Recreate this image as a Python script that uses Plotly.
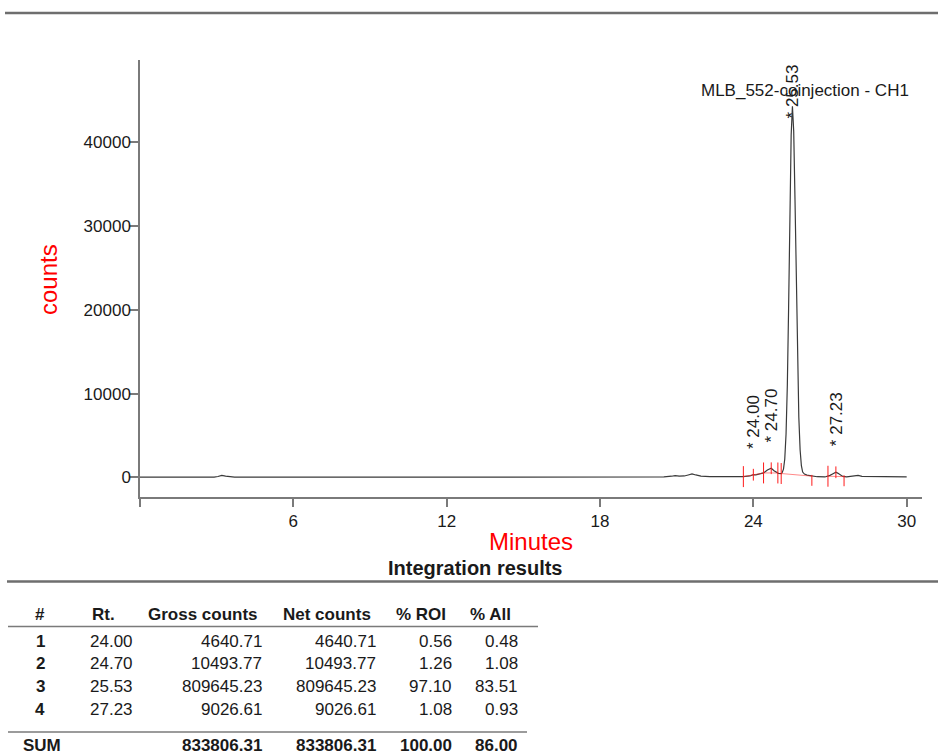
import numpy as np
import plotly.graph_objects as go

# ---------------- chromatogram (CH1) ----------------
time_min = [0.0, 1.0, 2.0, 2.9, 3.05, 3.2, 3.35, 3.5, 3.7, 6.0, 9.0, 12.0, 15.0, 18.0,
            19.5, 20.5, 20.8, 20.94, 21.1, 21.3, 21.45, 21.6, 21.75, 21.95, 22.3, 23.0,
            23.6, 23.87, 24.0, 24.1, 24.2, 24.4, 24.55, 24.7, 24.81, 24.98, 25.1,
            25.13, 25.18, 25.23, 25.28, 25.33, 25.38, 25.43, 25.48, 25.53, 25.58,
            25.63, 25.68, 25.73, 25.78, 25.83, 25.88, 25.93, 26.0, 26.1, 26.3, 26.5,
            26.8, 26.9, 27.0, 27.1, 27.18, 27.23, 27.3, 27.4, 27.5, 27.65, 27.95,
            28.1, 28.25, 28.5, 29.0, 29.5, 30.0]
counts = [50, 40, 50, 50, 120, 250, 170, 80, 50, 40, 50, 40, 50, 40,
          40, 60, 150, 220, 160, 180, 300, 420, 300, 170, 110, 90,
          100, 180, 330, 320, 380, 540, 900, 1100, 810, 500, 470,
          590, 1000, 2200, 5150, 10950, 20200, 31300, 40850, 44300, 41300,
          33200, 23000, 13800, 7200, 3300, 1400, 650, 400, 280, 150, 90,
          60, 120, 250, 420, 580, 620, 520, 280, 120, 80, 150,
          250, 130, 110, 100, 90, 80]

# labelled peaks (retention time, minutes)
peak_rt = [24.00, 24.70, 25.53, 27.23]

# integration marks: time and kind
mark_time = [23.61, 24.00, 24.40, 24.70, 24.96, 25.09, 26.29, 26.92, 27.23, 27.55]
mark_kind = ["bound", "apex", "bound", "apex", "bound", "bound", "end", "bound", "apex", "end"]
# integration baselines (start, end)
base_start = [23.61, 24.40, 25.09, 26.92]
base_end = [24.40, 24.96, 26.29, 27.55]

# ---------------- integration results ----------------
peak_no = [1, 2, 3, 4]
gross_counts = [4640.71, 10493.77, 809645.23, 9026.61]
net_counts = [4640.71, 10493.77, 809645.23, 9026.61]
pct_roi = [0.56, 1.26, 97.10, 1.08]
pct_all = [0.48, 1.08, 83.51, 0.93]
sum_gross, sum_net, sum_roi, sum_all = 833806.31, 833806.31, 100.00, 86.00

x_ticks = [0, 6, 12, 18, 24, 30]
y_ticks = [0, 10000, 20000, 30000, 40000]

# ---------------- layout constants ----------------
W, H = 938, 754
ML, MR, MT, MB = 140, 16, 60, 257
PW, PH = W - ML - MR, H - MT - MB
FONT = "Arial, Liberation Sans, sans-serif"
INK = "#1a1a1a"
AXIS = "#7a7a7a"
MARK_EXTENT = {"bound": (1250, 1250), "apex": (700, 700), "end": (150, 1150)}


def px_x(px):
    return (px - ML) / PW


def px_y(py):
    return (H - MB - py) / PH


fig = go.Figure()

fig.add_trace(go.Scatter(x=time_min, y=counts, mode="lines",
                         line=dict(color="#3a3a3a", width=1.2),
                         hoverinfo="skip", showlegend=False))

# integration baselines
bx, by = [], []
for s, e in zip(base_start, base_end):
    bx += [s, e, None]
    by += [float(np.interp(s, time_min, counts)), float(np.interp(e, time_min, counts)), None]
fig.add_trace(go.Scatter(x=bx, y=by, mode="lines",
                         line=dict(color="rgba(255,40,40,0.55)", width=1),
                         hoverinfo="skip", showlegend=False))

# integration tick marks
mx, my = [], []
for t, k in zip(mark_time, mark_kind):
    v = float(np.interp(t, time_min, counts))
    up, down = MARK_EXTENT[k]
    mx += [t, t, None]
    my += [v - down, v + up, None]
fig.add_trace(go.Scatter(x=mx, y=my, mode="lines",
                         line=dict(color="#ff1a1a", width=1),
                         hoverinfo="skip", showlegend=False))

annotations = []
# peak labels
for rt in peak_rt:
    v = float(np.interp(rt, time_min, counts))
    if v > 20000:
        annotations.append(dict(x=rt, xref="x", y=1, yref="paper", yanchor="top",
                                xanchor="center", yshift=-2, text=f"* {rt:.2f}",
                                textangle=-90, showarrow=False,
                                font=dict(family=FONT, size=17, color=INK)))
    else:
        annotations.append(dict(x=rt, xref="x", y=v, yref="y", yanchor="bottom",
                                xanchor="center", yshift=24, text=f"* {rt:.2f}",
                                textangle=-90, showarrow=False,
                                font=dict(family=FONT, size=17, color=INK)))

# chart title
annotations.append(dict(x=px_x(911), y=px_y(90), xref="paper", yref="paper",
                        xanchor="right", yanchor="middle", showarrow=False,
                        text="MLB_552-coinjection - CH1",
                        font=dict(family=FONT, size=17, color=INK)))
# axis titles
annotations.append(dict(x=px_x(531), y=px_y(541), xref="paper", yref="paper",
                        xanchor="center", yanchor="middle", showarrow=False,
                        text="Minutes", font=dict(family=FONT, size=24, color="#ff0000")))
annotations.append(dict(x=px_x(48), y=px_y(280), xref="paper", yref="paper",
                        xanchor="center", yanchor="middle", showarrow=False, textangle=-90,
                        text="counts", font=dict(family=FONT, size=24, color="#ff0000")))
annotations.append(dict(x=px_x(475), y=px_y(568), xref="paper", yref="paper",
                        xanchor="center", yanchor="middle", showarrow=False,
                        text="<b>Integration results</b>",
                        font=dict(family=FONT, size=20, color=INK)))


def cell(px, py, text, anchor, bold=False):
    annotations.append(dict(x=px_x(px), y=px_y(py), xref="paper", yref="paper",
                            xanchor=anchor, yanchor="middle", showarrow=False,
                            text=f"<b>{text}</b>" if bold else text,
                            font=dict(family=FONT, size=17, color=INK)))


# table header
HEAD_Y = 614
cell(40, HEAD_Y, "#", "center", True)
cell(90, HEAD_Y, "Rt.", "left", True)
cell(260, HEAD_Y, "Gross counts", "right", True)
cell(373, HEAD_Y, "Net counts", "right", True)
cell(448, HEAD_Y, "% ROI", "right", True)
cell(513, HEAD_Y, "% All", "right", True)

ROW_Y0, ROW_DY = 641, 22.7
for i, n in enumerate(peak_no):
    yy = ROW_Y0 + i * ROW_DY
    cell(40, yy, str(n), "center", True)
    cell(88, yy, f"{peak_rt[i]:.2f}", "left")
    cell(264, yy, f"{gross_counts[i]:.2f}", "right")
    cell(378, yy, f"{net_counts[i]:.2f}", "right")
    cell(454, yy, f"{pct_roi[i]:.2f}", "right")
    cell(520, yy, f"{pct_all[i]:.2f}", "right")

SUM_Y = 745
cell(21, SUM_Y, "SUM", "left", True)
cell(264, SUM_Y, f"{sum_gross:.2f}", "right", True)
cell(378, SUM_Y, f"{sum_net:.2f}", "right", True)
cell(454, SUM_Y, f"{sum_roi:.2f}", "right", True)
cell(520, SUM_Y, f"{sum_all:.2f}", "right", True)

shapes = []


def hline(x0, x1, py, width, color):
    shapes.append(dict(type="line", xref="paper", yref="paper",
                       x0=px_x(x0), x1=px_x(x1), y0=px_y(py), y1=px_y(py),
                       line=dict(color=color, width=width)))


hline(5, 938, 13, 2.5, "#6e6e6e")
hline(7, 938, 581.5, 2.5, "#6e6e6e")
hline(8, 538, 626.5, 1.5, "#7a7a7a")
hline(8, 527, 732, 1.5, "#7a7a7a")

fig.update_layout(
    width=W, height=H,
    margin=dict(l=ML, r=MR, t=MT, b=MB),
    paper_bgcolor="white", plot_bgcolor="white",
    showlegend=False,
    annotations=annotations,
    shapes=shapes,
    xaxis=dict(range=[0, 30.6], tickvals=x_ticks,
               ticktext=["" if v == 0 else str(v) for v in x_ticks],
               showline=True, linecolor=AXIS, linewidth=1.5,
               ticks="outside", ticklen=8, tickcolor=AXIS, tickwidth=1.5,
               showgrid=False, zeroline=False,
               tickfont=dict(family=FONT, size=17, color=INK)),
    yaxis=dict(range=[-2330, 49820], tickvals=y_ticks,
               ticktext=[str(v) for v in y_ticks],
               showline=True, linecolor=AXIS, linewidth=1.5,
               ticks="outside", ticklen=8, tickcolor=AXIS, tickwidth=1.5,
               showgrid=False, zeroline=False, ticklabelstandoff=-4,
               tickfont=dict(family=FONT, size=17, color=INK)),
)

fig.write_html("out.html")
